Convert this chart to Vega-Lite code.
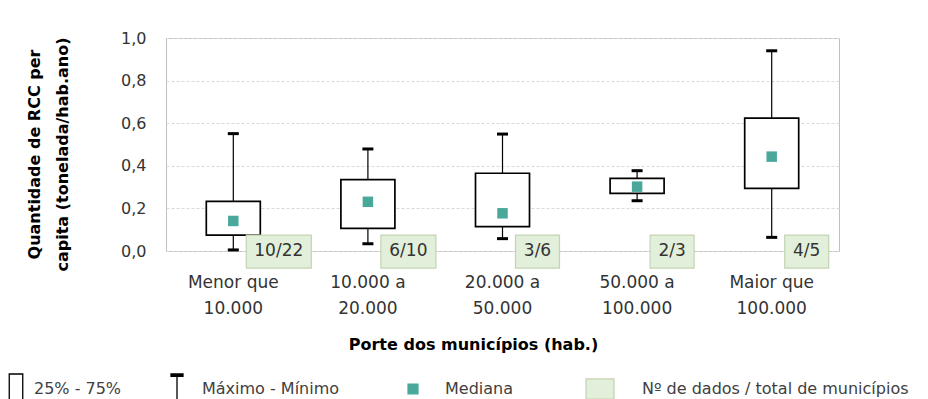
{
  "$schema": "https://vega.github.io/schema/vega-lite/v6.json",
  "autosize": {"type": "none"},
  "padding": {"left": 166, "top": 38, "right": 89, "bottom": 148},
  "width": 673,
  "height": 213,
  "background": "white",
  "config": {
    "view": {"stroke": "#bfbfbf", "strokeWidth": 1},
    "font": "DejaVu Sans",
    "legend": {
      "orient": "none", "title": null, "symbolOpacity": 1, "symbolSize": 900, "symbolStrokeWidth": 1.3,
      "labelFont": "DejaVu Sans", "labelFontSize": 16, "labelColor": "#404040", "labelLimit": 400,
      "legendY": 335
    }
  },
  "resolve": {"scale": {"shape": "independent", "fill": "independent", "stroke": "independent"}},
  "data": {
    "values": [
      {"porte": "Menor que 10.000", "min": 0.005, "q1": 0.075, "mediana": 0.141, "q3": 0.233, "max": 0.551, "rotulo": "10/22"},
      {"porte": "10.000 a 20.000", "min": 0.034, "q1": 0.106, "mediana": 0.231, "q3": 0.335, "max": 0.479, "rotulo": "6/10"},
      {"porte": "20.000 a 50.000", "min": 0.058, "q1": 0.114, "mediana": 0.177, "q3": 0.365, "max": 0.549, "rotulo": "3/6"},
      {"porte": "50.000 a 100.000", "min": 0.236, "q1": 0.271, "mediana": 0.302, "q3": 0.341, "max": 0.377, "rotulo": "2/3"},
      {"porte": "Maior que 100.000", "min": 0.064, "q1": 0.294, "mediana": 0.443, "q3": 0.624, "max": 0.94, "rotulo": "4/5"}
    ]
  },
  "encoding": {
    "x": {
      "field": "porte", "type": "nominal", "sort": null,
      "scale": {"paddingInner": 0, "paddingOuter": 0},
      "axis": {
        "title": "Porte dos municípios  (hab.)",
        "titleFont": "DejaVu Sans", "titleFontSize": 16, "titleFontWeight": "bold", "titleColor": "#000000",
        "titlePadding": 20, "titleX": 307,
        "labelAngle": 0, "labelFont": "DejaVu Sans", "labelFontSize": 17, "labelColor": "#333333",
        "labelPadding": 23, "labelLineHeight": 26, "labelBaseline": "top",
        "labelExpr": "[slice(datum.value, 0, lastindexof(datum.value, ' ')), slice(datum.value, lastindexof(datum.value, ' ') + 1)]",
        "ticks": false, "domain": false, "grid": false, "zindex": 0
      }
    }
  },
  "layer": [
    {
      "mark": {"type": "rule", "color": "#000000", "strokeWidth": 1.2},
      "encoding": {
        "y": {
          "field": "min", "type": "quantitative",
          "scale": {"domain": [0, 1], "nice": false},
          "axis": {
            "title": ["Quantidade  de RCC per", "capita  (tonelada/hab.ano)"],
            "titleFont": "DejaVu Sans", "titleFontSize": 16, "titleFontWeight": "bold", "titleColor": "#000000",
            "titleLineHeight": 28, "titlePadding": 50, "titleY": 116,
            "values": [0, 0.2, 0.4, 0.6, 0.8, 1],
            "labelExpr": "replace(format(datum.value, '.1f'), '.', ',')",
            "labelFont": "DejaVu Sans", "labelFontSize": 16, "labelColor": "#333333", "labelPadding": 20,
            "ticks": false, "domain": false,
            "gridColor": "#d9d9d9", "gridDash": [3, 2], "gridWidth": 1
          }
        },
        "y2": {"field": "max"}
      }
    },
    {
      "mark": {"type": "bar", "width": 54, "fill": "#ffffff", "stroke": "#000000", "strokeWidth": 1.7},
      "encoding": {"y": {"field": "q1", "type": "quantitative"}, "y2": {"field": "q3"}}
    },
    {
      "mark": {"type": "tick", "orient": "horizontal", "size": 11, "thickness": 3, "color": "#000000", "opacity": 1},
      "encoding": {"y": {"field": "min", "type": "quantitative"}}
    },
    {
      "mark": {"type": "tick", "orient": "horizontal", "size": 11, "thickness": 3, "color": "#000000", "opacity": 1},
      "encoding": {"y": {"field": "max", "type": "quantitative"}}
    },
    {
      "mark": {"type": "point", "shape": "square", "filled": true, "size": 110, "color": "#4aa89b", "opacity": 1},
      "encoding": {"y": {"field": "mediana", "type": "quantitative"}}
    },
    {
      "transform": [{"filter": "datum.rotulo == '10/22'"}],
      "layer": [
        {
          "mark": {"type": "bar", "width": 65, "xOffset": 45.5, "fill": "#e2efda", "stroke": "#c3d4b3", "strokeWidth": 1.2},
          "encoding": {"y": {"datum": -0.08, "type": "quantitative"}, "y2": {"datum": 0.075}}
        },
        {
          "mark": {"type": "text", "xOffset": 45.5, "font": "DejaVu Sans", "fontSize": 17, "color": "#333333", "baseline": "middle"},
          "encoding": {"y": {"datum": 0, "type": "quantitative"}, "text": {"field": "rotulo"}}
        }
      ]
    },
    {
      "transform": [{"filter": "datum.rotulo == '6/10'"}],
      "layer": [
        {
          "mark": {"type": "bar", "width": 55, "xOffset": 40.5, "fill": "#e2efda", "stroke": "#c3d4b3", "strokeWidth": 1.2},
          "encoding": {"y": {"datum": -0.08, "type": "quantitative"}, "y2": {"datum": 0.075}}
        },
        {
          "mark": {"type": "text", "xOffset": 40.5, "font": "DejaVu Sans", "fontSize": 17, "color": "#333333", "baseline": "middle"},
          "encoding": {"y": {"datum": 0, "type": "quantitative"}, "text": {"field": "rotulo"}}
        }
      ]
    },
    {
      "transform": [{"filter": "datum.rotulo != '10/22' && datum.rotulo != '6/10'"}],
      "layer": [
        {
          "mark": {"type": "bar", "width": 44, "xOffset": 35, "fill": "#e2efda", "stroke": "#c3d4b3", "strokeWidth": 1.2},
          "encoding": {"y": {"datum": -0.08, "type": "quantitative"}, "y2": {"datum": 0.075}}
        },
        {
          "mark": {"type": "text", "xOffset": 35, "font": "DejaVu Sans", "fontSize": 17, "color": "#333333", "baseline": "middle"},
          "encoding": {"y": {"datum": 0, "type": "quantitative"}, "text": {"field": "rotulo"}}
        }
      ]
    },
    {
      "data": {"values": [{"item": "25% - 75%"}]},
      "mark": {"type": "point", "filled": true},
      "encoding": {
        "x": null,
        "opacity": {"value": 0},
        "shape": {"field": "item", "type": "nominal", "scale": {"range": ["M-0.45,-1H0.45V1H-0.45Z"]}, "legend": {"legendX": -166, "labelOffset": 2}},
        "fill": {"field": "item", "type": "nominal", "scale": {"range": ["#ffffff"]}, "legend": {"legendX": -166, "labelOffset": 2}},
        "stroke": {"field": "item", "type": "nominal", "scale": {"range": ["#000000"]}, "legend": {"legendX": -166, "labelOffset": 2}}
      }
    },
    {
      "data": {"values": [{"item": "Máximo - Mínimo"}]},
      "mark": {"type": "point", "filled": true},
      "encoding": {
        "x": null,
        "opacity": {"value": 0},
        "shape": {"field": "item", "type": "nominal", "scale": {"range": ["M-0.4,-1H0.4V-0.84H-0.4Z M0,-0.84V1"]}, "legend": {"legendX": -5, "labelOffset": 9}},
        "fill": {"field": "item", "type": "nominal", "scale": {"range": ["#000000"]}, "legend": {"legendX": -5, "labelOffset": 9}},
        "stroke": {"field": "item", "type": "nominal", "scale": {"range": ["#000000"]}, "legend": {"legendX": -5, "labelOffset": 9}}
      }
    },
    {
      "data": {"values": [{"item": "Mediana"}]},
      "mark": {"type": "point", "filled": true},
      "encoding": {
        "x": null,
        "opacity": {"value": 0},
        "shape": {"field": "item", "type": "nominal", "scale": {"range": ["M-0.33,-0.33H0.33V0.33H-0.33Z"]}, "legend": {"legendX": 231, "labelOffset": 16}},
        "fill": {"field": "item", "type": "nominal", "scale": {"range": ["#4aa89b"]}, "legend": {"legendX": 231, "labelOffset": 16}},
        "stroke": {"field": "item", "type": "nominal", "scale": {"range": ["#4aa89b"]}, "legend": {"legendX": 231, "labelOffset": 16}}
      }
    },
    {
      "data": {"values": [{"item": "Nº de dados / total de municípios"}]},
      "mark": {"type": "point", "filled": true},
      "encoding": {
        "x": null,
        "opacity": {"value": 0},
        "shape": {"field": "item", "type": "nominal", "scale": {"range": ["M-0.93,-0.67H0.93V0.67H-0.93Z"]}, "legend": {"legendX": 418, "labelOffset": 26}},
        "fill": {"field": "item", "type": "nominal", "scale": {"range": ["#e2efda"]}, "legend": {"legendX": 418, "labelOffset": 26}},
        "stroke": {"field": "item", "type": "nominal", "scale": {"range": ["#c3d4b3"]}, "legend": {"legendX": 418, "labelOffset": 26}}
      }
    }
  ]
}
